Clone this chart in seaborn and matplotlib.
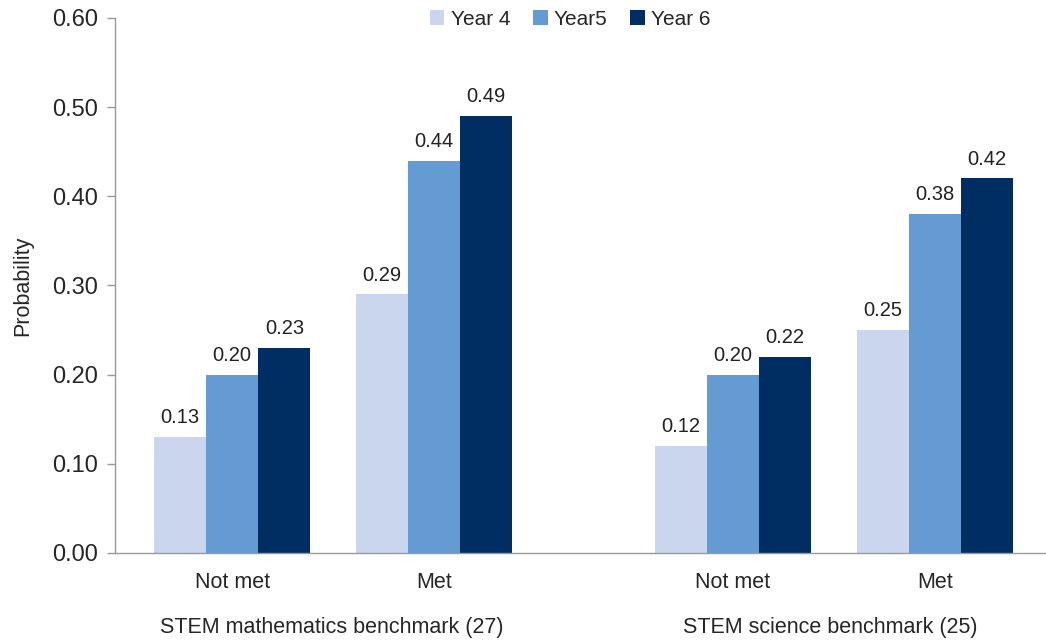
import pandas as pd
import matplotlib.pyplot as plt
import seaborn as sns

# chart values
categories = ["Not met", "Met", "Not met", "Met"]
positions = [0, 1, 2.48, 3.48]
years = ["Year 4", "Year5", "Year 6"]
year4 = [0.13, 0.29, 0.12, 0.25]
year5 = [0.20, 0.44, 0.20, 0.38]
year6 = [0.23, 0.49, 0.22, 0.42]
groups = ["STEM mathematics benchmark (27)", "STEM science benchmark (25)"]
colors = ["#C9D6EE", "#659BD3", "#002D62"]

rows = []
for yr, vals in zip(years, [year4, year5, year6]):
    for p, v in zip(positions, vals):
        rows.append({"pos": p, "year": yr, "prob": v})
df = pd.DataFrame(rows)

sns.set_style("white")
plt.rcParams['font.family'] = ['Liberation Sans', 'DejaVu Sans']

fig = plt.figure(figsize=(10.46, 6.41), dpi=100)
ax = fig.add_axes([0.110, 0.1373, 0.89, 0.8347])

sns.barplot(data=df, x="pos", y="prob", hue="year", hue_order=years,
            palette=colors, native_scale=True, width=0.775, saturation=1,
            linewidth=0, ax=ax)

for c in ax.containers:
    ax.bar_label(c, fmt="%.2f", padding=7, fontsize=14.5, color="#222222")

ax.set_xlim(-0.58, 4.03)
ax.set_ylim(0, 0.60)
ax.set_yticks([0, 0.1, 0.2, 0.3, 0.4, 0.5, 0.6])
ax.set_yticklabels([f"{t:.2f}" for t in ax.get_yticks()], fontsize=17)
ax.set_xticks(positions)
ax.set_xticklabels(categories, fontsize=15.5)
ax.tick_params(axis="x", length=0, pad=14)
ax.tick_params(axis="y", length=6, width=1, color="#999999", direction="out", left=True, pad=6)
ax.set_xlabel("")
ax.set_ylabel("Probability", fontsize=15.5, labelpad=14)

for s in ["top", "right"]:
    ax.spines[s].set_visible(False)
for s in ["left", "bottom"]:
    ax.spines[s].set_color("#999999")
    ax.spines[s].set_linewidth(1)

# group labels under the categories
fig.text(332 / 1046, 1 - 628 / 641, groups[0], ha="center", va="center", fontsize=15.5)
fig.text(830 / 1046, 1 - 628 / 641, groups[1], ha="center", va="center", fontsize=15.5)

ax.legend(loc="upper center", bbox_to_anchor=(0.489, 1.05), ncol=3, frameon=False,
          fontsize=15, handlelength=0.7, handleheight=0.7, handletextpad=0.3,
          columnspacing=1.1)

fig.savefig("out.png", dpi=100)
